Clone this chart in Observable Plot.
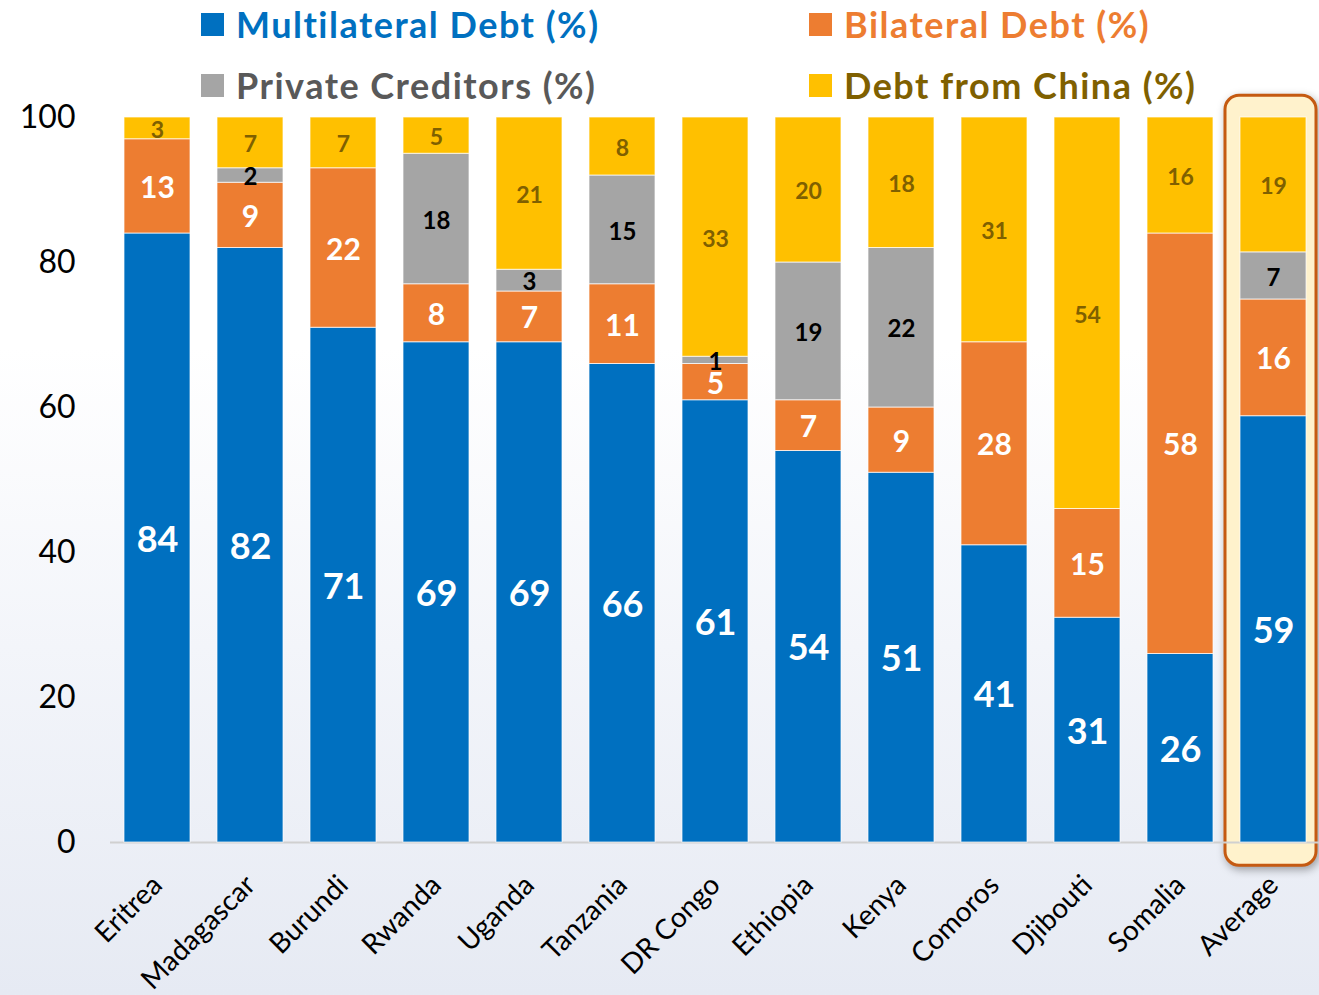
<!DOCTYPE html>
<html>
<head>
<meta charset="utf-8">
<script src="https://cdn.jsdelivr.net/npm/d3@7"></script>
<script src="https://cdn.jsdelivr.net/npm/@observablehq/plot@0.6"></script>
<style>
  html, body { margin: 0; padding: 0; }
  body {
    width: 1319px; height: 995px; overflow: hidden;
    font-family: Lato, "Open Sans", sans-serif;
    background: linear-gradient(to bottom, #ffffff 0%, #ffffff 35%, #f3f5fa 65%, #e6eaf3 100%);
  }
  #legend { position: relative; height: 100px; }
  .item { position: absolute; display: flex; align-items: center; font-weight: bold; font-size: 36px; letter-spacing: 1.5px; white-space: nowrap; }
  .sw { width: 23px; height: 23px; margin-right: 12px; }
</style>
</head>
<body>
<div id="legend"></div>
<div id="chart"></div>
<script>
const categories = ["Eritrea","Madagascar","Burundi","Rwanda","Uganda","Tanzania","DR Congo","Ethiopia","Kenya","Comoros","Djibouti","Somalia","Average"];
const multilateral = [84,82,71,69,69,66,61,54,51,41,31,26,58.8];
const bilateral    = [13, 9,22, 8, 7,11, 5, 7, 9,28,15,58,16.1];
const privateCred  = [ 0, 2, 0,18, 3,15, 1,19,22, 0, 0, 0, 6.5];
const china        = [ 3, 7, 7, 5,21, 8,33,20,18,31,54,16,18.6];
const seriesNames  = ["Multilateral Debt (%)","Bilateral Debt (%)","Private Creditors (%)","Debt from China (%)"];
const seriesColors = ["#0070C0","#ED7D31","#A5A5A5","#FFC000"];
const legendTextColors = ["#0070C0","#ED7D31","#595959","#7F6000"];
const labelColors  = ["white","white","black","#7F6000"];
const labelSizes   = [36, 30, 24, 23];
const yTicks = [0,20,40,60,80,100];
const highlight = [{cat: "Average", from: -3.2, to: 103}];

const seriesValues = [multilateral, bilateral, privateCred, china];
const rows = [];
categories.forEach((c, i) => {
  seriesNames.forEach((s, k) => rows.push({cat: c, series: s, k, value: seriesValues[k][i]}));
});

// legend
const legend = document.getElementById("legend");
const legendPos = [[201, 24], [809, 24], [201, 85], [809, 85]];
seriesNames.forEach((s, k) => {
  const it = document.createElement("div");
  it.className = "item";
  it.style.left = legendPos[k][0] + "px";
  it.style.top = (legendPos[k][1] - 20) + "px";
  it.style.height = "40px";
  it.style.color = legendTextColors[k];
  const sw = document.createElement("span");
  sw.className = "sw";
  sw.style.background = seriesColors[k];
  const tx = document.createElement("span");
  tx.textContent = s;
  it.appendChild(sw); it.appendChild(tx);
  legend.appendChild(it);
});

const textMarks = seriesNames.map((s, k) => Plot.text(rows, Plot.stackY({
  x: "cat", y: "value", z: "series",
  text: d => (d.k === k && d.value > 0) ? String(Math.round(d.value)) : "",
  fill: labelColors[k], fontSize: labelSizes[k], fontWeight: "bold", dy: 2
})));

const chart = Plot.plot({
  width: 1319,
  height: 895,
  marginTop: 17,
  marginBottom: 153,
  marginLeft: 110,
  marginRight: 0,
  style: {background: "transparent", fontFamily: "Lato, 'Open Sans', sans-serif", overflow: "visible"},
  x: {domain: categories, range: [110.5, 1320.5], paddingInner: 0.29, paddingOuter: 0.145, label: null},
  y: {domain: [0, 100], label: null},
  color: {domain: seriesNames, range: seriesColors},
  marks: [
    Plot.barY(highlight, {x: "cat", y1: "from", y2: "to", fill: "#FFF2CC", stroke: "#C55A11", strokeWidth: 3, rx: 14, insetLeft: -15, insetRight: -10, imageFilter: "drop-shadow(2px 3px 4px rgba(0,0,0,0.35))"}),
    Plot.ruleY([0], {stroke: "#D0D0D0", strokeWidth: 2}),
    Plot.barY(rows, {x: "cat", y: "value", fill: "series", stroke: "white", strokeOpacity: 0.7, strokeWidth: 1}),
    ...textMarks,
    Plot.axisY({ticks: yTicks, tickSize: 0, tickPadding: 35, fontSize: 32, label: null, fill: "black"}),
    Plot.axisX({tickSize: 0, tickPadding: 38, tickRotate: -45, fontSize: 28, label: null, dx: 0, fill: "black"})
  ]
});
document.getElementById("chart").appendChild(chart);
</script>
</body>
</html>
